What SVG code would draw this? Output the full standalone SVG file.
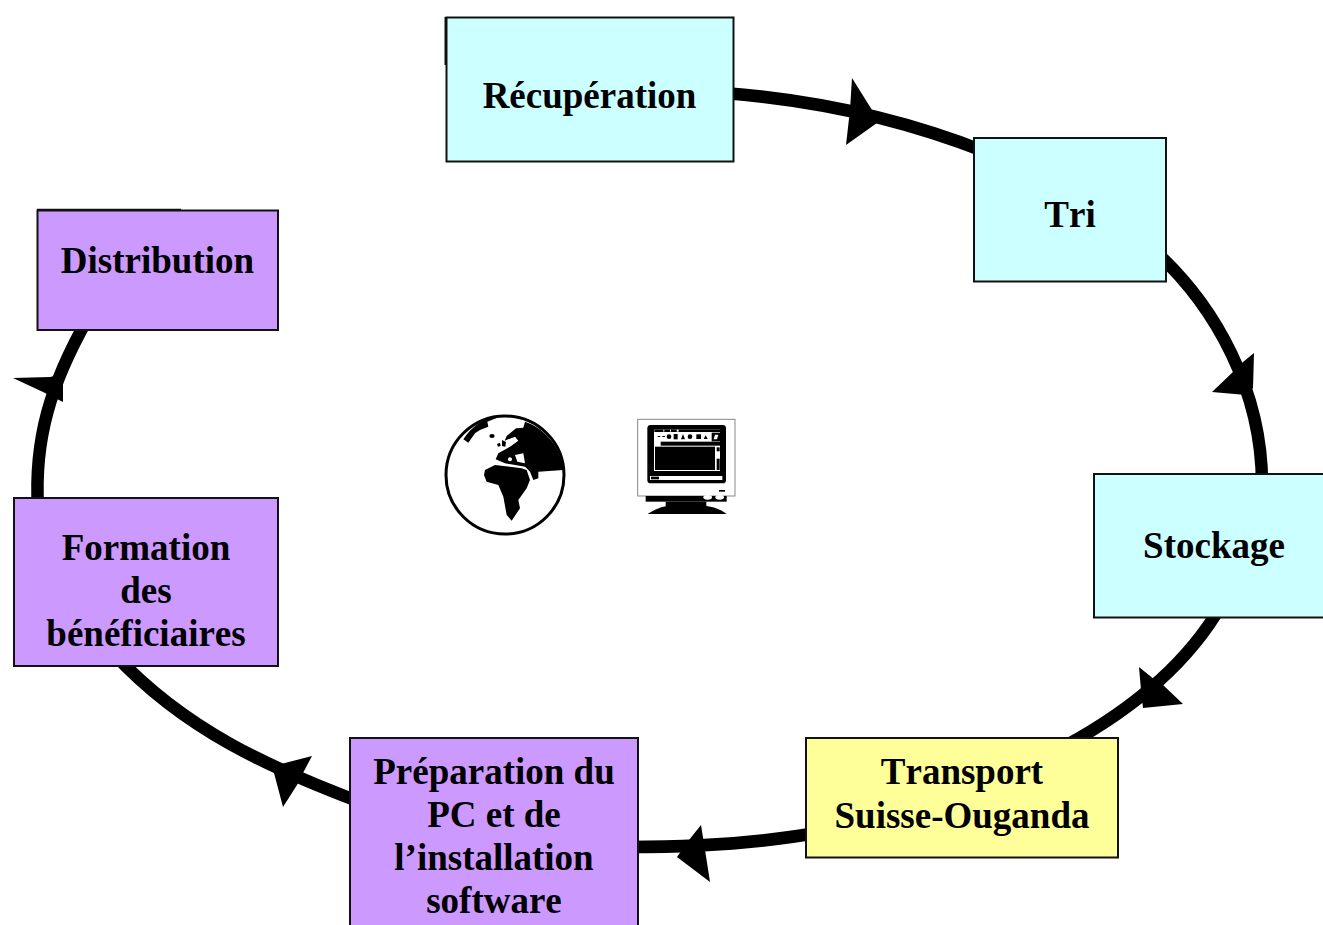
<svg xmlns="http://www.w3.org/2000/svg" width="1323" height="925" viewBox="0 0 1323 925">
<style>
.box{stroke:#111;stroke-width:2}
.cy{fill:#CCFFFF}.ye{fill:#FFFF99}.pu{fill:#CC99FF}
text{font-family:"Liberation Serif","Times New Roman",serif;font-weight:700;font-size:37px;font-kerning:none;fill:#000;text-anchor:middle}
.wire{fill:none;stroke:#000;stroke-width:12.500}
.k{fill:#000}.w{fill:#fff}
</style>
<rect width="1323" height="925" fill="#fff"/>
<g id="connectors">
<path class="wire" d="M724,93C815,100 900,118 986,152"/>
<polygon class="k" points="852,78 872,110 884,118 846,145 850,110"/>
<path class="wire" d="M1158,254C1215,307 1262,390 1262,484"/>
<polygon class="k" points="1254,353 1253,388 1246,395 1212,392 1234,371 1243,362"/>
<path class="wire" d="M1222,604C1190,660 1135,708 1065,746"/>
<polygon class="k" points="1139,667 1155,680 1162,684 1183,704 1143,708 1141,690"/>
<path class="wire" d="M816,833C760,843 700,847 628,847"/>
<polygon class="k" points="701,825 705,850 710,882 677,857 689,840"/>
<path class="wire" d="M360,802C270,768 185,730 115,655"/>
<polygon class="k" points="312,756 281,764 274,773 283,807 297,785 303,773"/>
<path class="wire" d="M38,508C34,440 50,385 88,318"/>
<polygon class="k" points="13,378 50,377 63,374 63,402 43,392"/>
</g>
<g id="recuperation">
<rect class="box cy" x="446.500" y="17.500" width="287" height="144"/>
<path d="M445.500,17V65" stroke="#111" stroke-width="2" fill="none"/>
<text x="589.500" y="107.500">Récupération</text>
</g>
<g id="tri">
<rect class="box cy" x="974" y="138" width="192" height="143.500"/>
<text x="1070" y="227">Tri</text>
</g>
<g id="stockage">
<rect class="box cy" x="1094" y="474" width="232" height="143.500"/>
<text x="1214" y="558">Stockage</text>
</g>
<g id="transport">
<rect class="box ye" x="806" y="738" width="312" height="119.500"/>
<text x="962" y="784">Transport</text>
<text x="962" y="828">Suisse-Ouganda</text>
</g>
<g id="preparation">
<rect class="box pu" x="350" y="738" width="288" height="200"/>
<text x="494" y="784">Préparation du</text>
<text x="494" y="827">PC et de</text>
<text x="494" y="870">l’installation</text>
<text x="494" y="913">software</text>
</g>
<g id="formation">
<rect class="box pu" x="14" y="498" width="264" height="168"/>
<text x="146" y="560">Formation</text>
<text x="146" y="603">des</text>
<text x="146" y="646">bénéficiaires</text>
</g>
<g id="distribution">
<rect class="box pu" x="37.500" y="210.500" width="240.500" height="119.500"/>
<path d="M37,209.500H181" stroke="#111" stroke-width="1.600" fill="none"/>
<text x="157.500" y="273">Distribution</text>
</g>
<g id="globe" transform="translate(430,400) scale(.33333)">
<circle cx="225" cy="225" r="177" fill="#fff" stroke="#000" stroke-width="9"/>
<path class="k" d="M100,118L115,128L135,100L150,90L175,80L172,65L205,52C160,55 125,80 100,118Z"/>
<path class="k" d="M285,65L280,83L258,85L230,108L224,122L255,110L265,122L240,140L205,160L197,178L225,190L285,200L290,205L300,215L310,240L325,235L325,215L400,210C395,145 345,85 285,65Z"/>
<path class="w" d="M255,165L280,160L285,190L262,185Z"/>
<circle class="w" cx="240" cy="178" r="6"/>
<path class="k" d="M165,210L195,195L240,200L275,205L290,210L300,240L290,265L265,300L270,325L245,362L230,345L220,290L205,255L170,245L162,225Z"/>
<ellipse class="k" cx="186" cy="108" rx="8" ry="6"/>
<path class="k" d="M201,132L210,128L212,138L204,140Z M216,120L228,126L226,140L216,138Z"/>
</g>
<g id="monitor" transform="translate(625,410) scale(.33333)">
<rect x="38" y="28" width="292" height="230" fill="#fff" stroke="#888" stroke-width="3"/>
<rect class="k" x="67" y="45" width="236" height="175" rx="10"/>
<rect class="w" x="87" y="58" width="198" height="125"/>
<rect class="k" x="88" y="58" width="197" height="8"/>
<rect class="w" x="115" y="59" width="3" height="6"/><rect class="w" x="135" y="59" width="3" height="6"/><rect class="w" x="155" y="59" width="6" height="6"/>
<rect class="k" x="260" y="68" width="25" height="26"/>
<path class="w" d="M266,88L270,74H280L276,88Z"/>
<g class="k">
<rect x="98" y="78" width="8" height="3"/><rect x="112" y="78" width="8" height="3"/>
<circle cx="132" cy="80" r="7"/><rect x="146" y="72" width="12" height="16"/>
<path d="M168,88L174,72L180,88Z"/><circle cx="195" cy="80" r="7"/><rect x="214" y="73" width="14" height="14"/>
<path d="M236,87L242,76L248,87Z"/>
</g>
<rect class="k" x="107" y="95" width="178" height="12"/>
<rect class="k" x="90" y="110" width="180" height="70"/>
<rect class="k" x="275" y="112" width="9" height="12"/>
<rect class="k" x="275" y="146" width="9" height="34"/>
<rect class="w" x="75" y="198" width="217" height="12"/>
<rect class="k" x="78" y="200" width="24" height="8"/>
<rect class="k" x="282" y="240" width="18" height="5"/>
<rect class="k" x="62" y="258" width="243" height="17"/>
<ellipse class="w" cx="248" cy="262" rx="13" ry="7"/><ellipse class="w" cx="284" cy="262" rx="13" ry="7"/>
<rect class="k" x="122" y="275" width="122" height="14"/>
<path class="k" d="M68,312C90,298 105,292 125,288H245C270,292 290,300 305,312Z"/>
</g>
</svg>
